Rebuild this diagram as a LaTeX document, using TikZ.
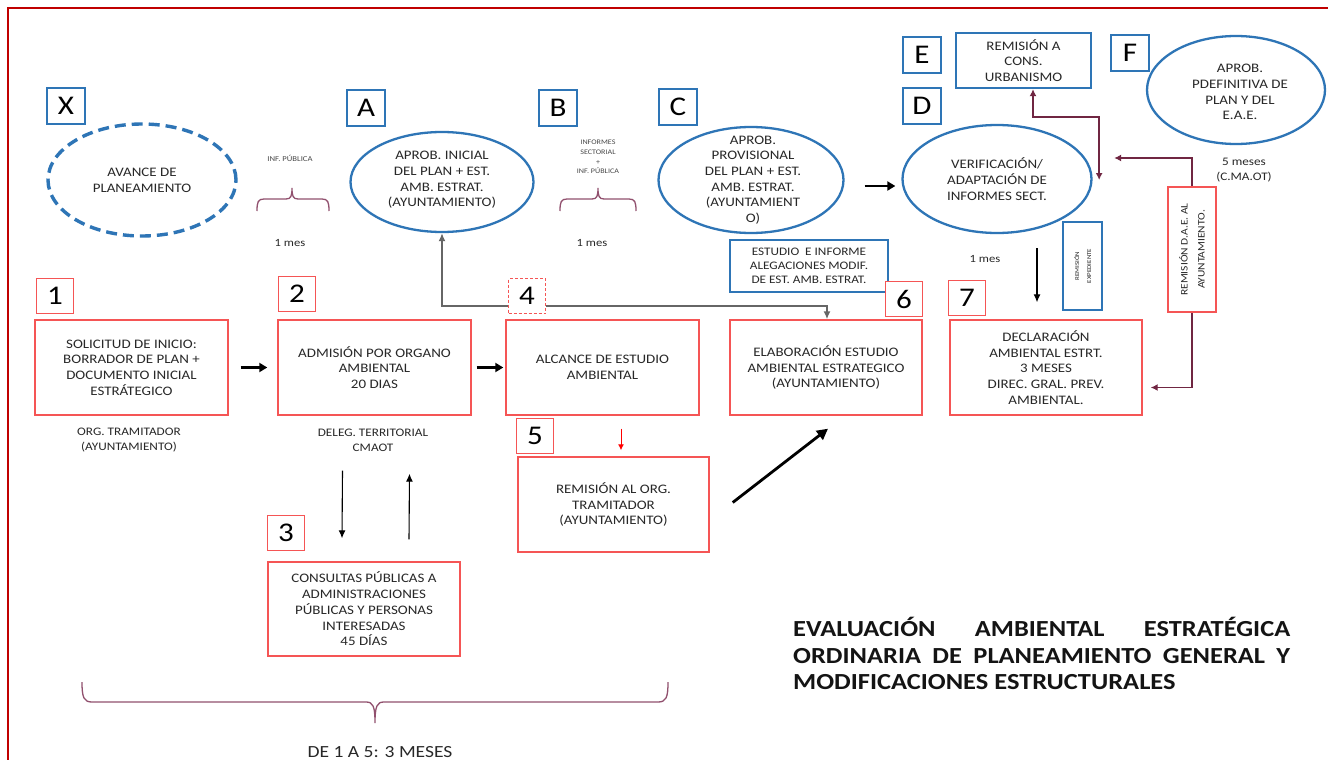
\documentclass[tikz,border=0pt]{standalone}
\usepackage{fontspec}
\setmainfont{Carlito}[FakeStretch=1.15]
\usetikzlibrary{shapes.geometric,arrows.meta,calc}
\definecolor{ellblue}{RGB}{46,117,182}
\definecolor{boxred}{RGB}{245,85,85}
\definecolor{framered}{RGB}{192,0,0}
\definecolor{maroonl}{RGB}{112,38,66}
\definecolor{bracec}{RGB}{145,80,110}
\definecolor{txt}{RGB}{40,40,40}
\definecolor{titlec}{RGB}{20,20,20}
\begin{document}
\begin{tikzpicture}[x=1pt,y=-1pt,
  bxfont/.style={font=\fontsize{13}{15.7}\selectfont, text=txt},
  lbl/.style={draw=ellblue, line width=2.2pt, minimum width=38pt, minimum height=36pt, inner sep=0pt, font=\fontsize{27}{30}\selectfont, fill=white},
  nlbl/.style={draw=boxred, line width=1.4pt, minimum width=37pt, minimum height=35pt, inner sep=0pt, font=\fontsize{27}{30}\selectfont, fill=white},
  ell/.style={ellipse, draw=ellblue, line width=2.3pt, inner sep=0pt},
  etext/.style={bxfont, align=center, inner sep=0pt},
  rbox/.style={rectangle, draw=boxred, line width=1.4pt, inner sep=0pt, align=center, bxfont, fill=white},
  bbox/.style={rectangle, draw=ellblue, line width=2.3pt, inner sep=0pt, align=center, fill=white},
  small/.style={font=\fontsize{11.5}{15}\selectfont, text=txt, align=center, inner sep=0pt},
  tiny/.style={font=\fontsize{7.5}{10}\selectfont, text=txt!85, align=center, inner sep=0pt},
  fatarrow/.style={line width=2.6pt, -{Triangle[length=8pt,width=9pt]}},
  thinarrow/.style={line width=1.1pt, -{Latex[length=8pt,width=7pt]}},
  mline/.style={draw=maroonl, line width=1.5pt, {Latex[length=7pt,width=7pt]}-{Latex[length=7pt,width=7pt]}},
  gline/.style={draw=black!60, line width=1.6pt, {Latex[length=8pt,width=7pt]}-{Latex[length=8pt,width=7pt]}},
  bracestyle/.style={draw=bracec, line width=1.3pt}
]
\useasboundingbox (0,0) rectangle (1328,760);
\fill[white] (0,0) rectangle (1328,760);
\draw[framered, line width=2pt] (8,760) -- (8,8) -- (1328,8);

% ellipses
\node[ell, minimum width=188pt, minimum height=112pt, line width=3.4pt, dash pattern=on 11pt off 6pt] (eX) at (142,180) {};
\node[etext] (tX) at (eX.center) {AVANCE DE\\PLANEAMIENTO};
\node[ell, minimum width=183pt, minimum height=100pt] (eA) at (442,182) {};
\node[etext] (tA) at (442,180) {APROB. INICIAL\\DEL PLAN + EST.\\AMB. ESTRAT.\\(AYUNTAMIENTO)};
\node[ell, minimum width=185pt, minimum height=106pt] (eC) at (751,180) {};
\node[etext] (tC) at (753,180) {APROB.\\PROVISIONAL\\DEL PLAN + EST.\\AMB. ESTRAT.\\(AYUNTAMIENT\\O)};
\node[ell, minimum width=189pt, minimum height=108pt] (eD) at (997,179) {};
\node[etext] (tD) at (eD.center) {VERIFICACIÓN/\\ADAPTACIÓN DE\\INFORMES SECT.};
\node[ell, minimum width=178pt, minimum height=108pt] (eF) at (1236,90) {};
\node[etext] (tF) at (1240,92) {APROB.\\PDEFINITIVA DE\\PLAN Y DEL\\E.A.E.};

% boxes
\node[rbox, minimum width=193pt, minimum height=95pt] (b1) at (131.5,367.5) {SOLICITUD DE INICIO:\\BORRADOR DE PLAN +\\DOCUMENTO INICIAL\\ESTRÁTEGICO};
\node[rbox, minimum width=193pt, minimum height=95pt] (b2) at (374.5,367.5) {ADMISIÓN POR ORGANO\\AMBIENTAL\\20 DIAS};
\node[rbox, minimum width=193pt, minimum height=95pt] (b4) at (602.5,367.5) {ALCANCE DE ESTUDIO\\AMBIENTAL};
\node[rbox, minimum width=191pt, minimum height=95pt] (b5) at (613.5,504.5) {REMISIÓN AL ORG.\\TRAMITADOR\\(AYUNTAMIENTO)};
\node[rbox, minimum width=192pt, minimum height=94pt] (b3) at (364,609) {CONSULTAS PÚBLICAS A\\ADMINISTRACIONES\\PÚBLICAS Y PERSONAS\\INTERESADAS\\45 DÍAS};
\node[rbox, minimum width=192pt, minimum height=95pt] (b6) at (826,367.5) {ELABORACIÓN ESTUDIO\\AMBIENTAL ESTRATEGICO\\(AYUNTAMIENTO)};
\node[rbox, minimum width=192pt, minimum height=95pt] (b7) at (1046,367.5) {DECLARACIÓN\\AMBIENTAL ESTRT.\\3 MESES\\DIREC. GRAL. PREV.\\AMBIENTAL.};
\node[bbox, minimum width=158pt, minimum height=52pt, font=\fontsize{11.5}{14}\selectfont, text=txt] (bEst) at (809,266) {ESTUDIO\ \ E INFORME\\ALEGACIONES MODIF.\\DE EST. AMB. ESTRAT.};
\node[bbox, minimum width=135pt, minimum height=55pt, bxfont] (bUrb) at (1023.5,60.5) {REMISIÓN A\\CONS.\\URBANISMO};
\node[bbox, minimum width=39pt, minimum height=88pt] (bExp) at (1082.5,266) {};
\node[rotate=90, font=\fontsize{6}{12}\selectfont, text=txt, align=center, inner sep=0pt] (tExp) at (bExp.center) {REMISIÓN\\EXPEDIENTE};

% gray connector behind label 4
\draw[gline] (eA.south) -- ++(0,73) coordinate (g1) -| ([xshift=1pt]b6.north);

% labels
\node[lbl] (lX) at (66,106) {X};
\node[lbl] (lA) at (366,108) {A};
\node[lbl] (lB) at (558,108) {B};
\node[lbl] (lC) at (678,107) {C};
\node[lbl] (lD) at (922,106) {D};
\node[lbl] (lE) at (922,55) {E};
\node[lbl] (lF) at (1130,53) {F};
\node[nlbl] (n1) at (55,296) {1};
\node[nlbl] (n2) at (297,294) {2};
\node[nlbl, draw=boxred, line width=1.1pt, dash pattern=on 3pt off 2pt] (n4) at (527,296) {4};
\node[nlbl] (n5) at (535,436) {5};
\node[nlbl] (n3) at (286,533) {3};
\node[nlbl] (n6) at (904,299) {6};
\node[nlbl] (n7) at (967,298) {7};

% small texts
\node[tiny] (ip1) at (290,158) {INF. PÚBLICA};
\node[tiny, font=\fontsize{7}{9.8}\selectfont] (ip2) at (598,157) {INFORMES\\SECTORIAL\\+\\INF. PÚBLICA};
\node[small, font=\fontsize{11}{15}\selectfont] (m1) at (290,243) {1 mes};
\node[small, font=\fontsize{11}{15}\selectfont] (m2) at (592,243) {1 mes};
\node[small, font=\fontsize{11}{15}\selectfont] (m3) at (985,259) {1 mes};
\node[small] (m5) at (1244,170) {5 meses\\(C.MA.OT)};
\node[small] (o1) at (129,440.5) {ORG. TRAMITADOR\\(AYUNTAMIENTO)};
\node[small] (o2) at (373,440.5) {DELEG. TERRITORIAL\\CMAOT};

% braces
\draw[bracestyle] (257,211) .. controls (257,202) and (258,199) .. (264,199) -- (286,199) .. controls (291,199) and (292,196) .. (292,188) .. controls (292,196) and (293,199) .. (298,199) -- (322,199) .. controls (328,199) and (329,202) .. (329,211);
\draw[bracestyle] (560,211) .. controls (560,202) and (561,199) .. (567,199) -- (592,199) .. controls (597,199) and (598,196) .. (598,188) .. controls (598,196) and (599,199) .. (604,199) -- (629,199) .. controls (635,199) and (636,202) .. (636,211);
\draw[bracestyle] (82,682) .. controls (82,698) and (84,702) .. (92,702) -- (366,702) .. controls (373,702) and (375,706) .. (375,723) .. controls (375,706) and (377,702) .. (384,702) -- (658,702) .. controls (666,702) and (668,698) .. (668,682);
\node[font=\fontsize{17}{20}\selectfont, text=txt, inner sep=0pt] (tot) at (380,752) {DE 1 A 5: 3 MESES};

% title
\node[anchor=north west, inner sep=0pt, align=left, text=titlec, font=\fontsize{23}{26.5}\selectfont\bfseries] (title) at (793,617) {\makebox[497pt][s]{EVALUACIÓN AMBIENTAL ESTRATÉGICA}\\\makebox[497pt][s]{ORDINARIA DE PLANEAMIENTO GENERAL Y}\\MODIFICACIONES ESTRUCTURALES};

% connectors
\draw[fatarrow] ([xshift=12pt]b1.east) -- ([xshift=-10pt]b2.west);
\draw[fatarrow] ([xshift=5pt]b2.east) -- ([xshift=-2pt]b4.west);
\draw[fatarrow] ([shift={(20,6)}]eC.east) -- ([shift={(-6,7)}]eD.west);
\draw[line width=2.8pt, -{Triangle[length=11pt,width=11pt]}] ([shift={(23,-2)}]b5.east) -- ([shift={(2,13)}]b6.south);
\draw[red, line width=1pt, -{Latex[length=6pt,width=6pt]}] ([shift={(18.5,13)}]b4.south) -- ([shift={(7.5,-6)}]b5.north);
\draw[thinarrow] ([shift={(-32,55)}]b2.south) -- ([shift={(-22,-23)}]b3.north);
\draw[thinarrow] ([shift={(45,-22)}]b3.north) -- ([shift={(35,58)}]b2.south);
\draw[thinarrow] ([shift={(40,14)}]eD.south) -- ([shift={(-9,-17)}]b7.north);
\draw[mline] ([xshift=9.5pt]bUrb.south) -- ++(0,28) -| ([shift={(6.5,1)}]eD.east);

% D.A.E. box and its connector
\coordinate (dS) at (1192,312);
\coordinate (dN) at (1192,187);
\draw[mline] ([shift={(8,20)}]b7.east) -| (dS) -- (dN) |- ([shift={(21.5,-21)}]eD.east);
\node[rectangle, draw=boxred, line width=1.4pt, fill=white, minimum width=48pt, minimum height=125pt, inner sep=0pt] (bDAE) at ($(dS)!0.5!(dN)$) {};
\node[rotate=90, font=\fontsize{10}{17}\selectfont, text=txt, align=center, inner sep=0pt] (tDAE) at (bDAE.center) {REMISIÓN D.A.E. AL\\AYUNTAMIENTO.};
\end{tikzpicture}
\end{document}
